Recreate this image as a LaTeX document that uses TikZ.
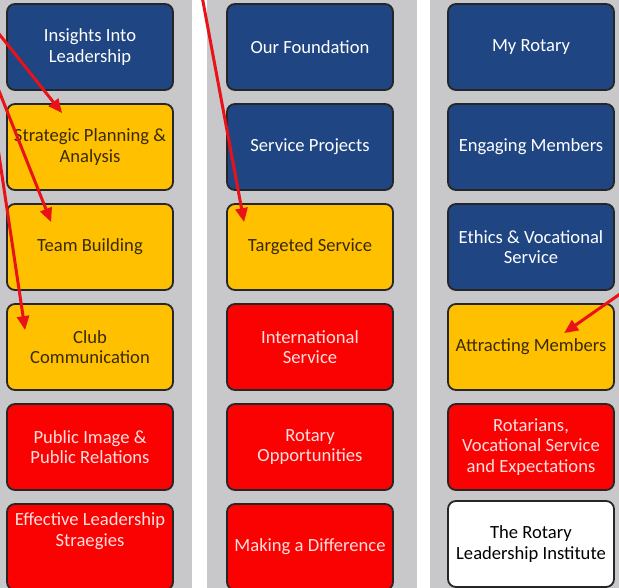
\documentclass[tikz,border=0pt]{standalone}
\usepackage{fontspec}
\setmainfont{Carlito}
\usetikzlibrary{arrows.meta,calc}
\definecolor{strip}{RGB}{200,200,202}
\definecolor{navy}{RGB}{31,69,130}
\definecolor{gold}{RGB}{255,192,0}
\definecolor{alarm}{RGB}{250,2,2}
\definecolor{goldtext}{RGB}{58,42,8}
\definecolor{pinktext}{RGB}{255,222,222}
\definecolor{pointer}{RGB}{232,18,24}
\tikzset{
  tile/.style={draw=black!85, line width=1.8pt, rounded corners=8pt,
    minimum width=166pt, minimum height=86pt, align=center,
    font=\fontsize{18.6}{20.5}\selectfont, inner sep=1pt},
  bluetile/.style={tile, fill=navy, text=white},
  goldtile/.style={tile, fill=gold, text=goldtext},
  redtile/.style={tile, fill=alarm, text=pinktext},
  whitetile/.style={tile, fill=white, text=black},
  pointerline/.style={draw=pointer, line width=3pt,
    -{Triangle[length=14pt,width=12pt]}},
}
\begin{document}
\begin{tikzpicture}[x=1pt,y=-1pt]
  \useasboundingbox (0,0) rectangle (619,587);
  \clip (0,0) rectangle (619,587);
  \fill[white] (0,0) rectangle (619,587);
  % grey column strips
  \fill[strip] (-15,-5) rectangle (192,595);
  \fill[strip] (207,-5) rectangle (417,595);
  \fill[strip] (430,-5) rectangle (640,595);

  % first column
  \node[bluetile]  (a1) at (90,47)  {Insights Into\\Leadership};
  \node[goldtile]  (a2) at (90,147) {Strategic Planning \&\\Analysis};
  \node[goldtile]  (a3) at (90,247) {Team Building};
  \node[goldtile]  (a4) at (90,347) {Club\\Communication};
  \node[redtile]   (a5) at (90,447) {Public Image \&\\Public Relations};
  \node[redtile]   (a6) at (90,547) {Effective Leadership\\Straegies\\[14pt]};

  % second column
  \node[bluetile]  (b1) at (310,47)  {Our Foundation};
  \node[bluetile]  (b2) at (310,147) {Service Projects};
  \node[goldtile]  (b3) at (310,247) {Targeted Service};
  \node[redtile]   (b4) at (310,347) {International\\Service};
  \node[redtile]   (b5) at (310,447) {Rotary\\Opportunities};
  \node[redtile]   (b6) at (310,547) {Making a Difference};

  % third column
  \node[bluetile]  (c1) at (531,47)  {My Rotary};
  \node[bluetile]  (c2) at (531,147) {Engaging Members};
  \node[bluetile]  (c3) at (531,247) {Ethics \& Vocational\\Service};
  \node[goldtile]  (c4) at (531,347) {Attracting Members};
  \node[redtile]   (c5) at (531,447) {Rotarians,\\Vocational Service\\and Expectations};
  \node[whitetile] (c6) at (531,544) {The Rotary\\Leadership Institute};

  % pointer tails (outside the frame) and tips
  \coordinate (pa) at (-20,10);
  \coordinate (pb) at (-20,43);
  \coordinate (pc) at (-10,95);
  \coordinate (pd) at (199,-20);
  \coordinate (pe) at (640,280);
  \coordinate (ta) at ($(a2.north west)+(56,10)$);
  \coordinate (tb) at ($(a3.north west)+(45,19)$);
  \coordinate (tc) at ($(a4.north west)+(19,27)$);
  \coordinate (td) at ($(b3.north west)+(18,19)$);
  \coordinate (te) at ($(c4.north west)+(117,30)$);

  \draw[pointerline] (pa) -- (ta);
  \draw[pointerline] (pb) -- (tb);
  \draw[pointerline] (pc) -- (tc);
  \draw[pointerline] (pd) -- (td);
  \draw[pointerline] (pe) -- (te);
\end{tikzpicture}
\end{document}
